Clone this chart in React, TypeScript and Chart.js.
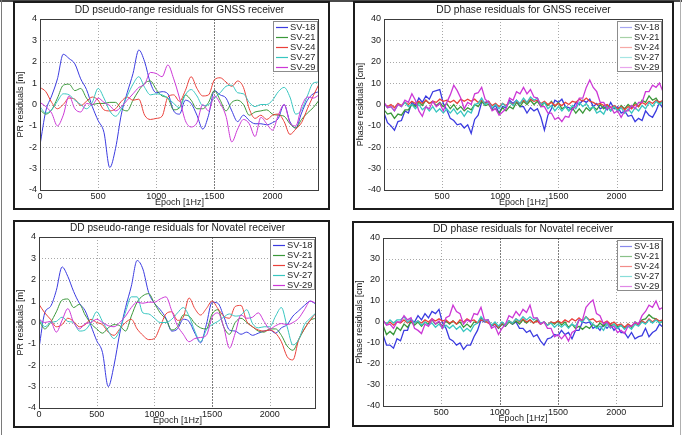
import React, { useEffect, useRef } from "react";
import { Chart, registerables } from "chart.js";

Chart.register(...registerables);

const FONT = "'Liberation Sans', Arial, Helvetica, sans-serif";

const SATELLITES = ["SV-18", "SV-21", "SV-24", "SV-27", "SV-29"];
const SAT_COLORS = ["#3b3be0", "#3a983a", "#ea403a", "#38c6c0", "#cc38d6"];

// epochs between stored samples
const PR_STEP = 50;
const PHASE_STEP = 30;

const PR_X_TICKS = [0, 500, 1000, 1500, 2000];
const PHASE_X_TICKS = [500, 1000, 1500, 2000];
const PR_Y_TICKS = [-4, -3, -2, -1, 0, 1, 2, 3, 4];
const PHASE_Y_TICKS = [-40, -30, -20, -10, 0, 10, 20, 30, 40];

// ---- GNSS receiver, DD pseudo-range residuals [m], every 50 epochs ----
const GNSS_PR_SV18 = [
  -1.9, -0.3, 0.4, 1.2, 2.35, 2.15, 1.9, 1.2, 0.7, -0.1,
  -0.75, -1.3, -2.95, -2.05, -0.45, 0.55, 1.45, 2.55, 2.0, 1.0,
  0.55, 0.6, 0.5, -0.3, -0.45, 0.2, 0.05, -0.5, -1.15, -0.5,
  0.65, 0.45, 0.3, -0.3, -0.8, -0.5, -0.75, -0.9, -0.9, -0.95,
  -0.85, -0.65, 0.0, -0.8, -1.1, -0.4, 0.2, 0.5, 0.6,
];
const GNSS_PR_SV21 = [
  -0.25, -0.45, -0.25, 0.3, 0.9, 0.95, 0.65, 0.75, 0.3, 0.0,
  0.05, 0.05, 0.1, 0.1, -0.2, -0.3, 0.2, 0.65, 1.0, 1.1,
  0.7, 0.4, 0.3, -0.25, -0.15, 0.45, 0.2, -0.2, -0.2, 0.1,
  0.65, 0.2, -0.3, 0.1, 0.2, 0.0, -0.5, -0.35, -0.3, -0.25,
  -0.45, -0.5, -0.55, -0.9, -1.1, -0.7, -0.4, -0.15, 0.2,
];
const GNSS_PR_SV24 = [
  0.8, 0.6, 0.1, -0.2, 0.0, 0.3, 0.25, -0.05, 0.15, 0.35,
  0.2, -0.25, -0.3, -0.2, 0.15, 0.35, 0.2, 0.25, -0.5, -0.7,
  -0.65, -0.55, 0.35, 0.45, 0.15, 0.65, 1.3, 0.75, 0.4, 0.45,
  1.15, 1.25, 1.05, 0.85, 1.1, 0.8, -0.2, -0.65, -0.5, -0.7,
  -0.5, -0.45, -0.8, -1.4, -1.15, -0.85, -0.2, 0.4, 0.95,
];
const GNSS_PR_SV27 = [
  -0.1, -0.4, -0.25, 0.15, 0.5, 0.45, 0.2, 0.0, -0.2, 0.1,
  0.75, 0.3, -0.3, -0.55, -0.2, 0.4, 0.95, 1.3, 0.8, 0.45,
  0.5, 0.45, 0.3, 0.05, -0.15, 0.45, 0.7, 0.4, -0.05, 0.0,
  0.3, 0.55, 0.85, 0.9, 0.55, 0.5, 0.1, -0.1, 0.0, 0.0,
  0.2, 0.6, 0.8, 0.35, -0.45, -0.25, 0.4, 1.0, 1.05,
];
const GNSS_PR_SV29 = [
  0.1, -0.1, -0.4, -1.0, -0.5, 0.4, -0.2, -0.35, 0.05, 0.0,
  0.3, 0.1, -0.05, -0.3, -0.1, 0.2, 0.5, 0.8, 0.95, 1.5,
  1.45, 1.3, 1.85, 1.2, 0.3, -0.75, -1.05, -0.85, 0.0, -0.3,
  0.4, 0.05, -0.55, -1.75, -1.15, -0.7, -0.9, -1.5, -0.6, -0.9,
  -1.2, -0.5, 0.0, -0.85, -1.0, -0.1, 0.35, 0.3, 0.45,
];

// ---- Novatel receiver, DD pseudo-range residuals [m], every 50 epochs ----
const NOVATEL_PR_SV18 = [
  -1.2, 0.45, 0.75, 1.5, 2.6, 2.15, 1.45, 0.9, 0.55, -0.15,
  -0.85, -1.4, -3.0, -2.0, -0.5, 0.7, 1.7, 2.9, 2.5, 1.4,
  0.9, 0.6, 0.2, -0.4, -0.3, 0.15, 0.05, -0.5, -0.95, -0.1,
  0.95, 0.9, 0.3, -0.35, -0.4, -0.55, -0.45, -0.6, -0.5, -0.4,
  -0.35, -0.5, -0.25, -0.1, 0.3, 0.55, 0.8, 1.0, 0.85,
];
const NOVATEL_PR_SV21 = [
  0.1, -0.3, 0.0, 0.5, 1.05, 1.1, 0.7, 0.85, 0.35, -0.05,
  -0.3, -0.5, -0.25, -0.1, -0.15, -0.4, 0.3, 0.95, 1.25, 1.35,
  0.9, 0.45, 0.15, -0.35, -0.2, 0.35, 0.3, -0.05, -0.25, -0.3,
  0.4, 0.6, -0.2, -0.55, 0.0, 0.2, 0.0, -0.2, -0.4, -0.45,
  -0.3, -0.3, -0.6, -1.1, -1.3, -0.8, -0.3, 0.1, 0.2,
];
const NOVATEL_PR_SV24 = [
  0.85, 0.45, 0.15, -0.2, -0.1, 0.2, 0.05, -0.2, -0.1, 0.15,
  0.0, -0.1, -0.45, -0.6, -0.3, 0.0, 0.15, -0.3, -0.6, -0.8,
  -0.75, -0.2, 0.4, 0.5, 0.1, 0.25, 1.15, 0.65, 0.35, 0.65,
  1.0, 0.65, 0.3, 0.2, 0.75, 0.8, 0.05, -0.2, -0.35, -0.4,
  -0.35, -0.5, -0.9, -1.6, -1.75, -0.8, -0.3, 0.1, 0.45,
];
const NOVATEL_PR_SV27 = [
  0.2, -0.2, 0.0, 0.05, 0.25, 0.05, 0.0, -0.4, -0.35, 0.0,
  0.5, 0.05, -0.4, -0.75, -0.35, 0.5, 1.2, 1.2, 0.45, 0.4,
  0.2, 0.0, 0.0, 0.15, 0.45, 0.7, 0.3, -0.4, -0.9, -0.35,
  -0.1, 0.05, 0.25, 0.4, 0.3, 0.35, 0.6, -0.05, -0.25, -0.2,
  -0.2, 0.3, 0.7, -0.2, -1.05, -0.8, -0.1, 0.2, 0.45,
];
const NOVATEL_PR_SV29 = [
  0.15, 0.0, 0.05, -0.45, 0.1, 0.65, 0.0, -0.3, -0.05, 0.0,
  0.15, 0.0, -0.15, -0.2, 0.0, 0.3, 0.7, 0.95, 0.9, 0.95,
  0.95, 1.1, 1.2, 0.55, -0.15, -0.55, -0.9, -0.75, -0.7, -0.6,
  0.25, 0.45, -0.2, -1.2, -0.5, 0.35, 0.2, 0.25, 0.45, 0.05,
  -0.3, -0.15, -0.05, -0.1, 0.0, 0.2, 0.6, 1.0, 0.9,
];

// ---- GNSS receiver, DD phase residuals [cm], every 30 epochs ----
const GNSS_PH_SV18 = [
  -4, -8.5, -10, -12, -8, -7.5, -3, -4, 1, -0.5,
  3, 1, 4, 2.5, 6, 6.5, 7, 0.5, -2.5, -6.5,
  -7.5, -9.5, -9, -11, -9.5, -13.5, -7, -5, 1, 1,
  1.5, -2, -0.5, -4, -1, -1.5, 2, 0.5, 2, -1,
  -1, -4, -1.5, -3, -2, -6, -12, -5, -2, 2,
  1, 2.5, -1, -1.5, -2.5, 1, 0, 2, 1, 2.5,
  -1, 0.5, -2, -1, -2.5, 1, -2, -1, -4, -3,
  -5.5, -5, -8, -6.5, -7.5, -3, -5, -6, -3, 1,
  -2,
];
const GNSS_PH_SV21 = [
  -2.5, -4.5, -4, -6.5, -4.5, -5, -2.5, -2.5, 0, -1,
  1, -0.5, 2, 0.5, 1.5, -0.5, 1, -1, 0.5, -2,
  0, -2.5, -1, -3, -1.5, -2.5, 0, -1, 1.5, -0.5,
  0, -2.5, -2, -4, -1.5, -3, -1, -2, 1, -1,
  1.5, 0, 2, 0, 1.5, -1, 1, -0.5, 1.5, -1,
  1, -2, -1, -3, -1.5, -4, -2, -4, -1.5, -3,
  -1, -2.5, 0, -2, -0.5, -3, -1, -3, -0.5, -2,
  0, -1.5, 1, -1, 2, 1, 4, 2, 3, 0.5,
  1.5,
];
const GNSS_PH_SV24 = [
  0.5, -1, 0, -1.5, 0.5, -0.5, 1, 0, 1.5, 0.5,
  1.5, 0.5, 2, 0.5, 1.5, 1, 2.5, 1.5, 2, 1,
  2, 0.5, 2.5, 1.5, 2.5, 1.5, 2.5, 1, 2, 0.5,
  1.5, -0.5, 0.5, -1, 0.5, -0.5, 1, 0, 1.5, 0.5,
  2, 1, 2.5, 1.5, 2, 0.5, 1.5, 0, 1, -0.5,
  0.5, -0.5, 1, 0, 1.5, 1, 2.5, 1.5, 3, 1.5,
  1, 0, 0.5, -0.5, 0, -1.5, -0.5, -2, -1, -2.5,
  -1, -2, 0, -1, 1, 0, 1.5, 0.5, 2, 1,
  2,
];
const GNSS_PH_SV27 = [
  0.5, -1.5, -1, -3, 0, -1, 1, -1, 0, -2,
  0, -2.5, -1, -3, -1, -3.5, -2, -4, -2, -4,
  -2, -4.5, -3, -5.5, -3, -4, 0, 0.5, 3, 0,
  1, -1.5, 0, -2, 0.5, -1, 1, -0.5, 2, 0.5,
  3, 1, 3.5, 2, 3, 0, 1, -2, -0.5, -3,
  -1, -3, -1, -3, -0.5, -2, 1, -1, 0.5, -2,
  -1, -4, -3, -4.5, -1, -3, -1, -3, -1.5, -4,
  -2, -4, -1.5, -3, -0.5, -2, 1, -1, 1.5, 0,
  1.5,
];
const GNSS_PH_SV29 = [
  1, -1.5, -1, -3, 0, -1, 2, 1, 5, 2,
  -3, -5.5, -1, -2, 1.5, -1, 0.5, -3, 1, 4.5,
  9, 6.5, 3, -2, 1, 0, 5, 5.5, 8, 2.5,
  1, -3, -2, -5, -3.5, -2, 3, 2, 6, 5,
  8, 5, 7, 3.5, 3, -1, -1, -4, -4, -7,
  -6, -8, -5.5, -6, -2, -1, 3, 3, 8, 11.5,
  8, 6, 1, 1, -2, -1, -4, -3, -6, -3,
  -3, -0.5, -2, 1, 1, 6, 6, 9, 8, 10,
  6,
];

// ---- Novatel receiver, DD phase residuals [cm], every 30 epochs ----
const NOVATEL_PH_SV18 = [
  -6, -11, -11, -12.5, -8, -9, -4, -4, 1, 0,
  3, 1, 4, 2, 5, 4, 6, -0.5, -3, -8,
  -9, -11, -10, -13, -11, -11, -7, -4, 1, 0,
  1, -2, -1, -3, -1, -2, 0.5, -1, 0, -3,
  -3, -5, -4, -7, -6, -9, -11, -8, -7.5, -6,
  -6.5, -4, -6, -5, -8, -4, -4, 0, -0.5, 0,
  -3, -2, -4, -1, -3, -1, -4, -2, -5, -5,
  -7.5, -5, -8, -7, -6.5, -3, -7, -5, -4, -1,
  -2.5,
];
const NOVATEL_PH_SV21 = [
  -1.5, -6, -4.5, -6, -2.5, -4, -1, -2.5, 0, -1.5,
  0, -2, 0, -1, 1, -1, 0, -2, 0.5, -1,
  0.5, -1, 0, -2.5, -1, -2.5, 0, -0.5, 2, 0.5,
  0.5, -1.5, -1, -3, -1, -2, 0, -1, 0.5, -1,
  1, -0.5, 1, -0.5, 1, -1, 0, -1.5, 0, -1,
  0.5, -1.5, 0, -2.5, -1, -3, -2, -3.5, -2, -3,
  -1, -2.5, -0.5, -2, 0, -2, -1, -2.5, -1.5, -3,
  -1, -2.5, 0, -1, 1, 1.5, 3.5, 2, 1.5, -0.5,
  0.5,
];
const NOVATEL_PH_SV24 = [
  0.5, -1, 0, -1.5, 0, -0.5, 1, -0.5, 0.5, -0.5,
  0.5, -0.5, 1, 0, 1.5, 0.5, 1.5, 0.5, 1, -0.5,
  0.5, -1, 1, 0, 1.5, 0.5, 1, -0.5, 1, 0.5,
  -0.5, -1.5, -1, -2.5, -0.5, -1.5, 0.5, -0.5, 1.5, 0,
  1.5, 0, 1, -0.5, 0.5, -1, 0, -1.5, 0, -0.5,
  0.5, -0.5, 1, 0, 1.5, 0.5, 2, 0.5, 2.5, 1,
  1.5, 0, 0.5, -0.5, 0.5, -1, 0, -1.5, -1, -2.5,
  -1, -2, -0.5, -1.5, 0.5, -0.5, 1.5, 0, 1.5, 0.5,
  1,
];
const NOVATEL_PH_SV27 = [
  0.5, -1, 1, -0.5, 1, 1, 2.5, 0, 1.5, -0.5,
  0.5, -1.5, 0, -1.5, -0.5, -2.5, -1, -3, -1.5, -3,
  -1.5, -3.5, -2, -4.5, -3, -4.5, -1.5, -0.5, 2.5, 0.5,
  1, -1.5, 0, -2, 0, -1.5, 0.5, -0.5, 1.5, 0.5,
  2.5, 1, 2.5, 1, 2, -0.5, 0, -1.5, -0.5, -2.5,
  -1, -2.5, -1, -3, -1, -2, 1, 0, 2.5, 0.5,
  -1, -3, -2, -4, -1, -3, -1, -3, -1.5, -3.5,
  -2, -3.5, -1, -2, 0, -1, 1, -0.5, 1, -0.5,
  0.5,
];
const NOVATEL_PH_SV29 = [
  1, -1.5, -1, -3, 0, 0, 3, 1, 2, -3,
  -4, -5.5, -1, -2, 1.5, -1, 0.5, -3, 2, 3,
  8, 5, 4, -1, 1, 0, 4, 3.5, 7, 1,
  1, -3, -2, -6, -3, -1, 3, 2, 5, 3,
  6, 4.5, 8, 2, 2, -1, 0, -3, -3, -7,
  -6, -8, -6, -9, -5, -4, 1, 1, 7, 9,
  10.5, 4, 3, -1, 0, -2.5, -2, -5, -4, -5.5,
  -2, -2, 0, -1, 3, 5, 8, 7, 10, 6,
  7,
];

type Box = { left: number; top: number; width: number; height: number };
type Area = { left: number; top: number; right: number; bottom: number };

type PanelProps = {
  frame: Box;
  plot: Area;
  title: string;
  xTitle: string;
  yTitle: string;
  series: number[][];
  step: number;
  xMax: number;
  yMin: number;
  yMax: number;
  xTicks: number[];
  yTicks: number[];
  lineWidth: number;
  smooth: boolean;
  legendAlpha: number;
  darkGridX: number[];
};

function Panel(p: PanelProps) {
  const ref = useRef<HTMLCanvasElement | null>(null);
  const cw = p.frame.width - 4;
  const ch = p.frame.height - 4;

  useEffect(() => {
    const canvas = ref.current;
    if (!canvas) return;

    const decorations = {
      id: "decorations",
      beforeDatasetsDraw(chart: any) {
        const { ctx, chartArea: a, scales } = chart;
        ctx.save();
        ctx.lineWidth = 1;
        for (const v of p.xTicks) {
          const x = Math.round(scales.x.getPixelForValue(v)) + 0.5;
          if (x <= a.left + 1 || x >= a.right - 1) continue;
          const dark = p.darkGridX.includes(v);
          ctx.strokeStyle = dark ? "#7c7c7c" : "#a8a8a8";
          ctx.setLineDash(dark ? [2, 1] : [1, 2]);
          ctx.beginPath();
          ctx.moveTo(x, a.top);
          ctx.lineTo(x, a.bottom);
          ctx.stroke();
        }
        ctx.strokeStyle = "#a8a8a8";
        ctx.setLineDash([1, 2]);
        for (const v of p.yTicks) {
          const y = Math.round(scales.y.getPixelForValue(v)) + 0.5;
          if (y <= a.top + 1 || y >= a.bottom - 1) continue;
          ctx.beginPath();
          ctx.moveTo(a.left, y);
          ctx.lineTo(a.right, y);
          ctx.stroke();
        }
        ctx.restore();
      },
      afterDatasetsDraw(chart: any) {
        const { ctx, chartArea: a } = chart;
        ctx.save();
        ctx.setLineDash([]);
        // axes box
        ctx.strokeStyle = "#3c3c3c";
        ctx.lineWidth = 1;
        ctx.strokeRect(
          Math.round(a.left) + 0.5,
          Math.round(a.top) + 0.5,
          Math.round(a.right - a.left) - 1,
          Math.round(a.bottom - a.top)
        );

        // legend in the upper right corner of the axes
        const lw = 44;
        const lh = 50;
        const lx = Math.round(a.right) - 2 - lw;
        const ly = Math.round(a.top) + 2;
        ctx.fillStyle = "#ffffff";
        ctx.fillRect(lx, ly, lw, lh);
        ctx.strokeStyle = "#8c8c8c";
        ctx.strokeRect(lx + 0.5, ly + 0.5, lw, lh);
        ctx.font = `9.3px ${FONT}`;
        ctx.textBaseline = "middle";
        ctx.textAlign = "left";
        chart.data.datasets.forEach((ds: any, i: number) => {
          const cy = ly + 5.5 + i * 10;
          ctx.globalAlpha = p.legendAlpha;
          ctx.strokeStyle = SAT_COLORS[i];
          ctx.lineWidth = 1.2;
          ctx.beginPath();
          ctx.moveTo(lx + 3, Math.round(cy) + 0.5);
          ctx.lineTo(lx + 15, Math.round(cy) + 0.5);
          ctx.stroke();
          ctx.globalAlpha = 1;
          ctx.fillStyle = "#262626";
          ctx.fillText(ds.label, lx + 17, cy + 0.5);
        });

        // titles
        ctx.fillStyle = "#222";
        ctx.textAlign = "center";
        ctx.textBaseline = "middle";
        ctx.font = `10.2px ${FONT}`;
        ctx.fillText(p.title, (a.left + a.right) / 2, a.top - 8.5);
        ctx.font = `9px ${FONT}`;
        ctx.fillText(p.xTitle, (a.left + a.right) / 2, a.bottom + 13);
        ctx.translate(6, (a.top + a.bottom) / 2);
        ctx.rotate(-Math.PI / 2);
        ctx.fillText(p.yTitle, 0, 0);
        ctx.restore();
      },
    };

    const n = p.series.length;
    const tickLabel = (v: any) => String(v);
    const chart = new Chart(canvas, {
      type: "line",
      data: {
        datasets: p.series.map((vals, k) => ({
          label: SATELLITES[k],
          data: vals.map((v, i) => ({ x: i * p.step, y: v })),
          borderColor: SAT_COLORS[k],
          borderWidth: p.lineWidth,
          pointRadius: 0,
          fill: false,
          cubicInterpolationMode: p.smooth ? "monotone" : "default",
          tension: 0,
          order: n - 1 - k,
        })),
      },
      options: {
        animation: false,
        responsive: false,
        devicePixelRatio: 1,
        events: [],
        layout: {
          padding: { left: 0, top: p.plot.top, right: cw - p.plot.right, bottom: 0 },
        },
        plugins: {
          legend: { display: false },
          title: { display: false },
          tooltip: { enabled: false },
        },
        scales: {
          x: {
            type: "linear",
            min: 0,
            max: p.xMax,
            grid: { display: false, drawTicks: false, tickLength: 0 },
            border: { display: false },
            ticks: {
              font: { family: FONT, size: 9 },
              color: "#222",
              padding: 1,
              maxRotation: 0,
              autoSkip: false,
              callback: tickLabel,
            },
            afterBuildTicks: (s: any) => {
              s.ticks = p.xTicks.map((v) => ({ value: v }));
            },
            afterFit: (s: any) => {
              s.height = ch - p.plot.bottom;
            },
          },
          y: {
            type: "linear",
            min: p.yMin,
            max: p.yMax,
            grid: { display: false, drawTicks: false, tickLength: 0 },
            border: { display: false },
            ticks: {
              font: { family: FONT, size: 9 },
              color: "#222",
              padding: 3,
              autoSkip: false,
              callback: tickLabel,
            },
            afterBuildTicks: (s: any) => {
              s.ticks = p.yTicks.map((v) => ({ value: v }));
            },
            afterFit: (s: any) => {
              s.width = p.plot.left;
            },
          },
        },
      } as any,
      plugins: [decorations],
    });
    return () => chart.destroy();
  }, []);

  return (
    <div
      style={{
        position: "absolute",
        left: p.frame.left,
        top: p.frame.top,
        width: p.frame.width,
        height: p.frame.height,
        boxSizing: "border-box",
        border: "2px solid #1c1c1c",
        background: "#fff",
      }}
    >
      <canvas ref={ref} width={cw} height={ch} style={{ display: "block", width: cw, height: ch }} />
    </div>
  );
}

export default function App() {
  return (
    <div
      style={{
        position: "absolute",
        left: 0,
        top: 0,
        width: 682,
        height: 435,
        background: "#fff",
        overflow: "hidden",
      }}
    >
      <div style={{ position: "absolute", left: 0, top: 0, width: 682, height: 2, background: "#4a4a4a" }} />
      <div style={{ position: "absolute", left: 1, top: 0, width: 1, height: 435, background: "#7a7a7a" }} />
      <div style={{ position: "absolute", left: 680, top: 0, width: 1, height: 435, background: "#b0b0b0" }} />

      <Panel
        frame={{ left: 13, top: 1, width: 317, height: 209 }}
        plot={{ left: 25, top: 16, right: 304, bottom: 187 }}
        title="DD pseudo-range residuals for GNSS receiver"
        xTitle="Epoch [1Hz]"
        yTitle="PR residuals [m]"
        series={[GNSS_PR_SV18, GNSS_PR_SV21, GNSS_PR_SV24, GNSS_PR_SV27, GNSS_PR_SV29]}
        step={PR_STEP}
        xMax={2400}
        yMin={-4}
        yMax={4}
        xTicks={PR_X_TICKS}
        yTicks={PR_Y_TICKS}
        lineWidth={1}
        smooth={true}
        legendAlpha={1}
        darkGridX={[1500]}
      />
      <Panel
        frame={{ left: 353, top: 1, width: 321, height: 209 }}
        plot={{ left: 29, top: 16, right: 308, bottom: 187 }}
        title="DD phase residuals for GNSS receiver"
        xTitle="Epoch [1Hz]"
        yTitle="Phase residuals [cm]"
        series={[GNSS_PH_SV18, GNSS_PH_SV21, GNSS_PH_SV24, GNSS_PH_SV27, GNSS_PH_SV29]}
        step={PHASE_STEP}
        xMax={2400}
        yMin={-40}
        yMax={40}
        xTicks={PHASE_X_TICKS}
        yTicks={PHASE_Y_TICKS}
        lineWidth={1.3}
        smooth={false}
        legendAlpha={0.45}
        darkGridX={[]}
      />
      <Panel
        frame={{ left: 13, top: 220, width: 317, height: 208 }}
        plot={{ left: 24, top: 15, right: 301, bottom: 186 }}
        title="DD pseudo-range residuals for Novatel receiver"
        xTitle="Epoch [1Hz]"
        yTitle="PR residuals [m]"
        series={[NOVATEL_PR_SV18, NOVATEL_PR_SV21, NOVATEL_PR_SV24, NOVATEL_PR_SV27, NOVATEL_PR_SV29]}
        step={PR_STEP}
        xMax={2400}
        yMin={-4}
        yMax={4}
        xTicks={PR_X_TICKS}
        yTicks={PR_Y_TICKS}
        lineWidth={1}
        smooth={true}
        legendAlpha={1}
        darkGridX={[1500]}
      />
      <Panel
        frame={{ left: 352, top: 221, width: 322, height: 206 }}
        plot={{ left: 29, top: 15, right: 309, bottom: 183 }}
        title="DD phase residuals for Novatel receiver"
        xTitle="Epoch [1Hz]"
        yTitle="Phase residuals [cm]"
        series={[NOVATEL_PH_SV18, NOVATEL_PH_SV21, NOVATEL_PH_SV24, NOVATEL_PH_SV27, NOVATEL_PH_SV29]}
        step={PHASE_STEP}
        xMax={2400}
        yMin={-40}
        yMax={40}
        xTicks={PHASE_X_TICKS}
        yTicks={PHASE_Y_TICKS}
        lineWidth={1.3}
        smooth={false}
        legendAlpha={0.6}
        darkGridX={[1000, 1500]}
      />
    </div>
  );
}
